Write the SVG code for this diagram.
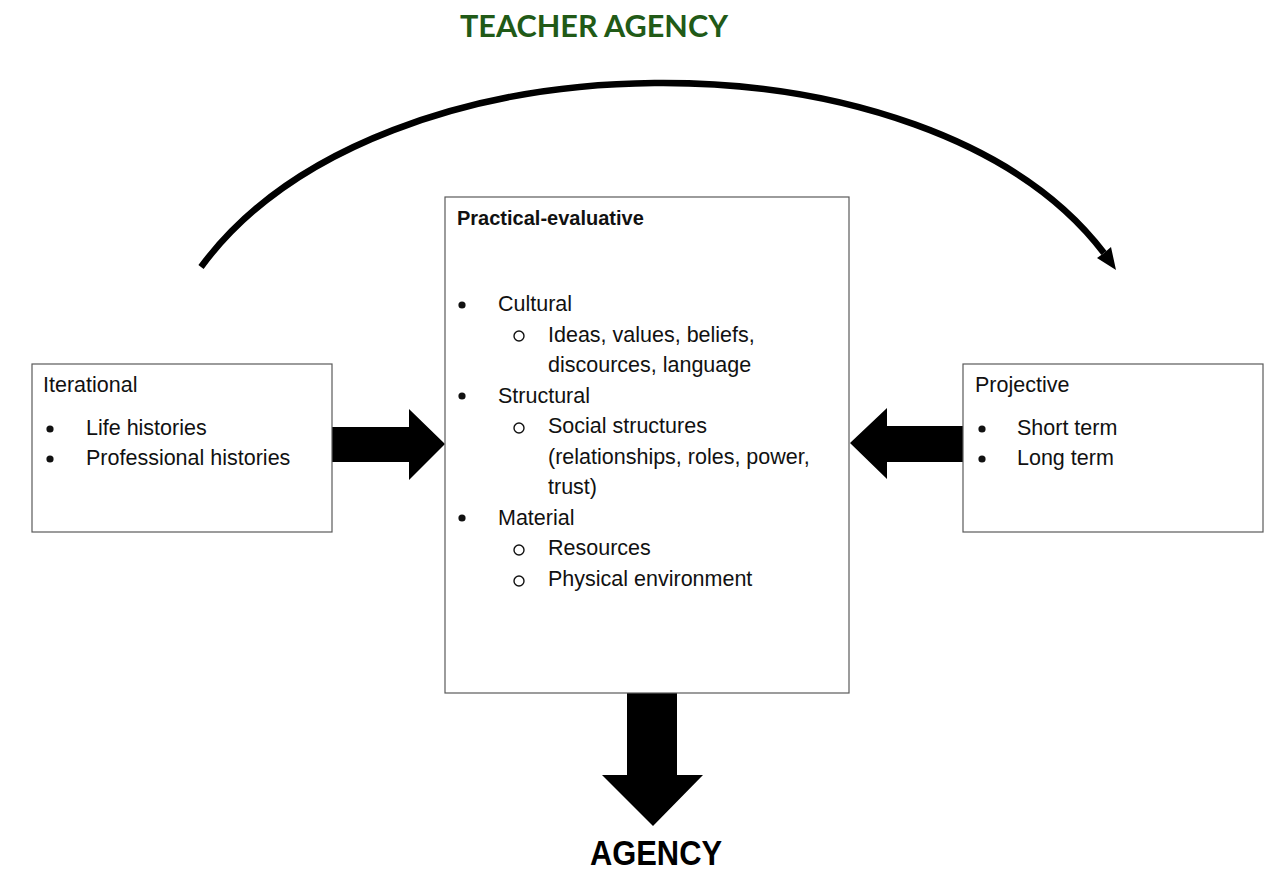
<svg xmlns="http://www.w3.org/2000/svg" width="1264" height="873" viewBox="0 0 1264 873">
<style>
.box{fill:#fff;stroke:#5a5a5a;stroke-width:1.2}
.t{font-family:"Liberation Sans",Arial,sans-serif;font-size:21.5px;fill:#111}
.b{font-family:"Liberation Sans",Arial,sans-serif;font-size:20px;font-weight:bold;fill:#111}
.dot{fill:#111}
.ring{fill:none;stroke:#111;stroke-width:1.4}
.blk{fill:#000}
</style>
<rect width="1264" height="873" fill="#fff"/>
<text x="460" y="37" font-family="Lato,'Liberation Sans',sans-serif" font-weight="bold" font-size="30" fill="#215a17" textLength="268" lengthAdjust="spacingAndGlyphs">TEACHER AGENCY</text>

<g id="connectors">
<path d="M201 267 C380 24 930 24 1104 253" fill="none" stroke="#000" stroke-width="6.5"/>
<polygon class="blk" points="1116,270 1097,258 1104,253 1111,247"/>
<polygon class="blk" points="332,427 409,427 409,409 445,444 409,480 409,462 332,462"/>
<polygon class="blk" points="963,426 887,426 887,408 850,443 887,479 887,462 963,462"/>
<polygon class="blk" points="627,693 677,693 677,775 703,775 653,826 602,775 627,775"/>
</g>

<g id="practical">
<rect class="box" x="445" y="197" width="404" height="496"/>
<text class="b" x="457" y="225">Practical-evaluative</text>
<circle class="dot" cx="462" cy="305" r="3.6"/>
<text class="t" x="498" y="311">Cultural</text>
<circle class="ring" cx="519" cy="336" r="5"/>
<text class="t" x="548" y="341.5">Ideas, values, beliefs,</text>
<text class="t" x="548" y="372">discources, language</text>
<circle class="dot" cx="462" cy="396" r="3.6"/>
<text class="t" x="498" y="402.5">Structural</text>
<circle class="ring" cx="519" cy="428" r="5"/>
<text class="t" x="548" y="433">Social structures</text>
<text class="t" x="548" y="463.5">(relationships, roles, power,</text>
<text class="t" x="548" y="494">trust)</text>
<circle class="dot" cx="462" cy="518" r="3.6"/>
<text class="t" x="498" y="525">Material</text>
<circle class="ring" cx="519" cy="550" r="5"/>
<text class="t" x="548" y="555">Resources</text>
<circle class="ring" cx="519" cy="581" r="5"/>
<text class="t" x="548" y="585.5">Physical environment</text>
</g>

<g id="iterational">
<rect class="box" x="32" y="364" width="300" height="168"/>
<text class="t" x="43" y="392">Iterational</text>
<circle class="dot" cx="50" cy="429" r="3.6"/>
<text class="t" x="86" y="435">Life histories</text>
<circle class="dot" cx="50" cy="459" r="3.6"/>
<text class="t" x="86" y="465">Professional histories</text>
</g>

<g id="projective">
<rect class="box" x="963" y="364" width="300" height="168"/>
<text class="t" x="975" y="392">Projective</text>
<circle class="dot" cx="982" cy="429" r="3.6"/>
<text class="t" x="1017" y="435">Short term</text>
<circle class="dot" cx="982" cy="459" r="3.6"/>
<text class="t" x="1017" y="465">Long term</text>
</g>

<g id="agency">
<text x="590" y="865" font-family="'Liberation Sans',Arial,sans-serif" font-weight="bold" font-size="35" fill="#000" textLength="132" lengthAdjust="spacingAndGlyphs">AGENCY</text>
</g>
</svg>
